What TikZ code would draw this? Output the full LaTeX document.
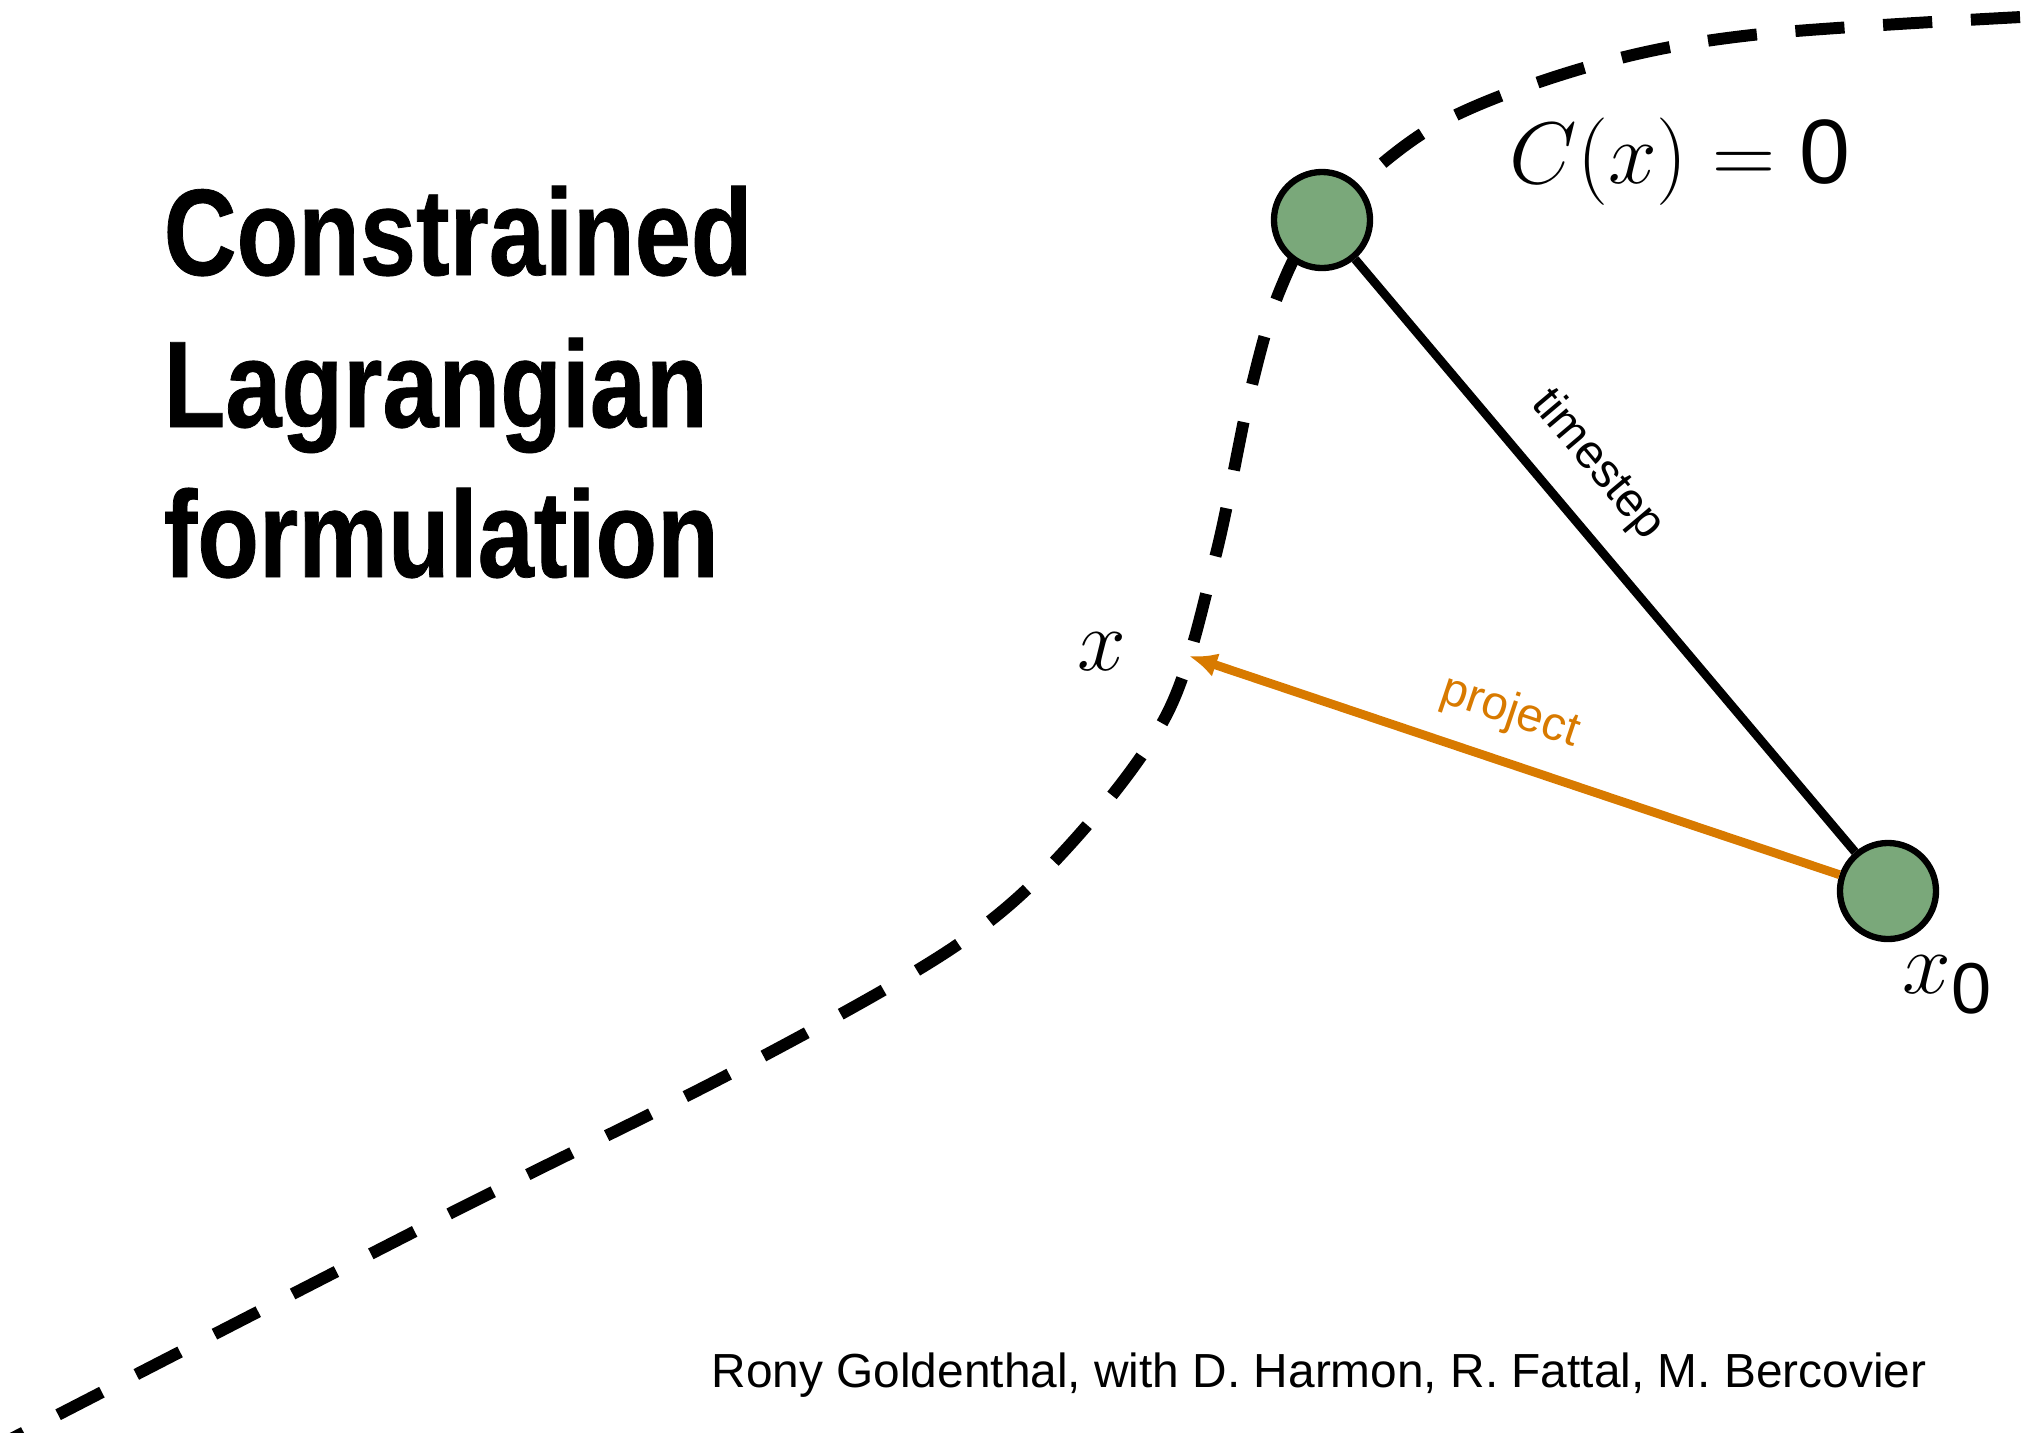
\documentclass[tikz,border=0pt]{standalone}
\usepackage{fontspec}
\setsansfont{Liberation Sans}
\newfontfamily\titlefont[FakeStretch=0.82, FakeBold=0.6]{Liberation Sans}
\usetikzlibrary{arrows.meta}

\definecolor{dotgreen}{RGB}{122,168,122}
\definecolor{projorange}{RGB}{216,122,0}

\begin{document}
\begin{tikzpicture}[x=0.01cm, y=-0.01cm,
    state/.style={circle, draw=black, line width=1.8pt, fill=dotgreen,
      minimum size=0.96cm, inner sep=0pt},
    mathlabel/.style={font=\fontsize{25}{30}\selectfont},
    steplabel/.style={font=\sffamily\fontsize{13.5}{15}\selectfont},
    heading/.style={anchor=base west, inner sep=0pt,
      font=\titlefont\bfseries\fontsize{35}{42}\selectfont}]
    \useasboundingbox (0,0) rectangle (2026,1432);

    % Constraint curve C(x) = 0
    \draw[line width=3.4pt, dash pattern=on 14pt off 11pt]
      plot[smooth, tension=0.55] coordinates {(-20,1455) (439,1219) (737,1070)
      (954,947) (1067,848) (1167,714) (1215,558) (1250,393) (1280,290)
      (1322,220) (1433,127) (1587,67) (1752,35) (2040,16)};

    % Particles
    \node[state] (xc) at (1322,220) {};
    \node[state] (xz) at (1888,891) {};
    \coordinate (xp) at (1189,656);

    % Unconstrained step
    \draw[line width=2.5pt] (xc) -- (xz)
      node[pos=0.405, sloped, above=4pt, steplabel] (steplbl) {timestep};

    % Projection back onto the curve
    \draw[line width=2.5pt, projorange, -{Latex[length=8pt, width=7pt]}] (xz) -- (xp)
      node[pos=0.53, sloped, above=3pt, steplabel] (projlbl) {project};

    % Math labels
    \node[mathlabel] (xlbl) at (1102,652) {$x$};
    \node[mathlabel] (x0lbl) at (1948,985)
      {$x_{\mbox{\sffamily\fontsize{20.5}{20}\selectfont 0}}$};
    \node[font=\fontsize{29}{32}\selectfont] (clbl) at (1680,162)
      {$C(x) = \mbox{\sffamily\fontsize{26}{30}\selectfont 0}$};

    % Title
    \node[heading] (title1) at (163,275) {Constrained};
    \node[heading] (title2) at (163,427) {Lagrangian};
    \node[heading] (title3) at (163,577) {formulation};

    % Credits
    \node[anchor=base west, inner sep=0pt, font=\sffamily\fontsize{13.6}{16}\selectfont]
      (credit) at (711,1387) {Rony Goldenthal, with D. Harmon, R. Fattal, M. Bercovier};
\end{tikzpicture}
\end{document}
